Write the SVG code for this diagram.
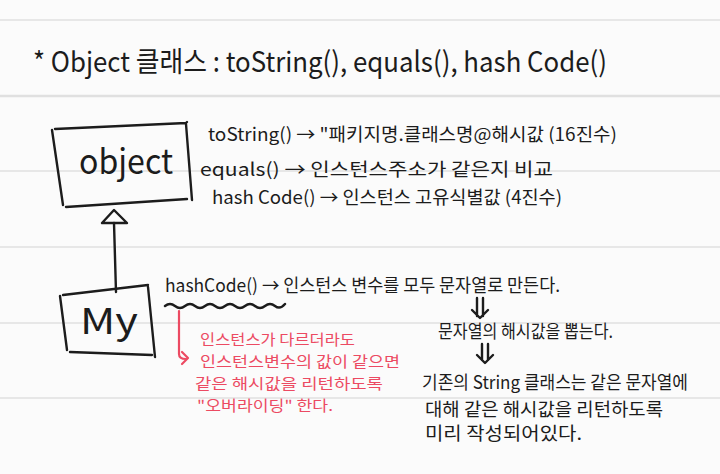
<svg xmlns="http://www.w3.org/2000/svg" width="720" height="474" viewBox="0 0 720 474">
<style>
.bg{fill:#fbfbfb}
.rule{stroke:#e0e0e0;stroke-width:1.5}
.ink{fill:none;stroke:#1c1c1c;stroke-width:2.4;stroke-linecap:round;stroke-linejoin:round}
.red{fill:none;stroke:#ec4a62;stroke-width:2.2;stroke-linecap:round;stroke-linejoin:round}
text{font-family:"Noto Sans CJK KR","Noto Sans",sans-serif;fill:#1c1c1c}
.t{font-size:18px}
.r{font-size:14.5px;fill:#ec4a62}
</style>
<rect class="bg" x="0" y="0" width="720" height="474"/>
<g id="rules">
<line class="rule" x1="0" y1="20" x2="720" y2="20"/>
<line class="rule" x1="0" y1="96" x2="720" y2="96" style="stroke-width:2.5"/>
<line class="rule" x1="0" y1="171" x2="720" y2="171"/>
<line class="rule" x1="0" y1="247" x2="720" y2="247"/>
<line class="rule" x1="0" y1="323" x2="720" y2="323"/>
<line class="rule" x1="0" y1="398" x2="720" y2="398"/>
</g>
<g id="title">
<text x="33" y="72" font-size="28" textLength="574" lengthAdjust="spacingAndGlyphs">* Object 클래스 : toString(), equals(), hash Code()</text>
</g>
<g id="object">
<path class="ink" d="M52 130 L63 205 M55 129 L186 123 L187 122 M186 124 L192 200 M66 207 L187 199"/>
<text x="79" y="174" font-size="34" textLength="94" lengthAdjust="spacingAndGlyphs">object</text>
</g>
<g id="my">
<path class="ink" d="M60 296 L67 350 M63 295 L148 285 M148 287 L155 357 M70 352 L152 355"/>
<text x="80" y="334" font-size="36" textLength="58" lengthAdjust="spacingAndGlyphs">My</text>
</g>
<g id="connectors">
<path class="ink" d="M116 292 L114 223"/>
<path class="ink" d="M114 210 L102 223 L127 223 Z"/>
<path class="ink" d="M165 306 q5 -4 10 0 t10 0 t10 0 t10 0 t10 0 t10 0 t10 0 t10 0 t10 0 t10 0 t10 0 t10 -2"/>
<path class="red" d="M179 311 L179 354 Q179 359 186 359 M182 352 L188 358 L182 364"/>
<path class="ink" d="M477 298 L477 316 M483 298 L483 316 M472 310 L480 318 L488 310"/>
<path class="ink" d="M482 344 L482 360 M488 344 L488 360 M477 355 L485 363 L493 355"/>
</g>
<g id="methods">
<text class="t" x="208" y="141" font-size="20" textLength="409" lengthAdjust="spacingAndGlyphs">toString() → "패키지명.클래스명@해시값 (16진수)</text>
<text class="t" x="200" y="176" font-size="19" textLength="353" lengthAdjust="spacingAndGlyphs">equals() → 인스턴스주소가 같은지 비교</text>
<text class="t" x="212" y="204" font-size="19" textLength="350" lengthAdjust="spacingAndGlyphs">hash Code() → 인스턴스 고유식별값 (4진수)</text>
</g>
<g id="hashcode">
<text class="t" x="165" y="292" font-size="19" textLength="395" lengthAdjust="spacingAndGlyphs">hashCode() → 인스턴스 변수를 모두 문자열로 만든다.</text>
<text class="t" x="438" y="338" textLength="175" lengthAdjust="spacingAndGlyphs">문자열의 해시값을 뽑는다.</text>
<text class="t" x="422" y="389" textLength="266" lengthAdjust="spacingAndGlyphs">기존의 String 클래스는 같은 문자열에</text>
<text class="t" x="425" y="416" font-size="16" textLength="238" lengthAdjust="spacingAndGlyphs">대해 같은 해시값을 리턴하도록</text>
<text class="t" x="425" y="440" font-size="16" textLength="157" lengthAdjust="spacingAndGlyphs">미리 작성되어있다.</text>
</g>
<g id="note">
<text class="r" x="200" y="345" textLength="155" lengthAdjust="spacingAndGlyphs">인스턴스가 다르더라도</text>
<text class="r" x="200" y="367" textLength="200" lengthAdjust="spacingAndGlyphs">인스턴스변수의 값이 같으면</text>
<text class="r" x="195" y="389" textLength="188" lengthAdjust="spacingAndGlyphs">같은 해시값을 리턴하도록</text>
<text class="r" x="197" y="411" textLength="136" lengthAdjust="spacingAndGlyphs">"오버라이딩" 한다.</text>
</g>
</svg>
